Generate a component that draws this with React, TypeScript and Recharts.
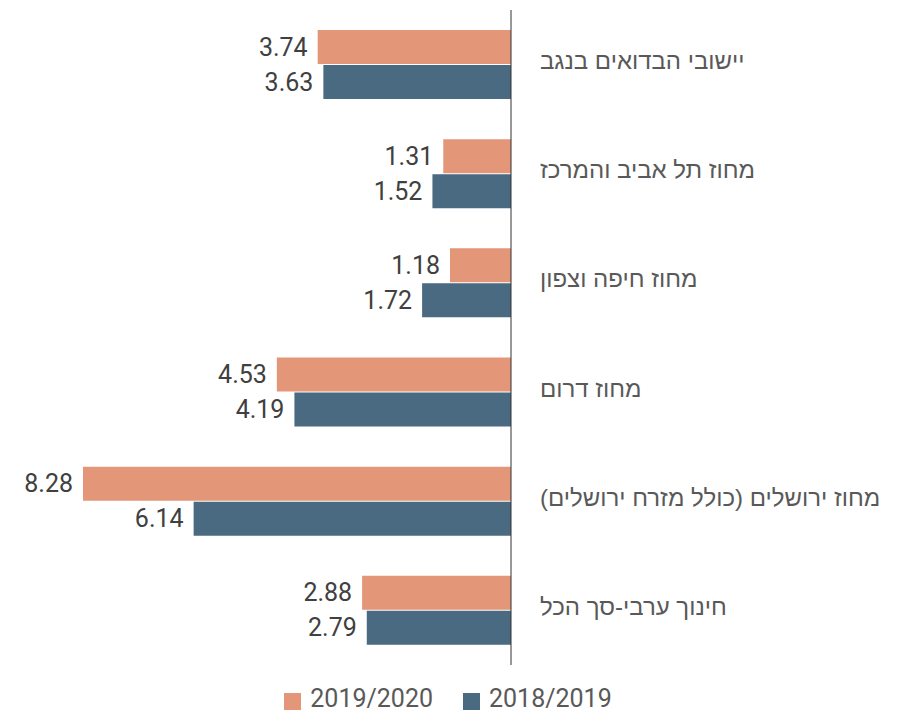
import React from 'react';
import { BarChart, Bar, XAxis, YAxis, Legend, LabelList } from 'recharts';

const categories = [
  'יישובי הבדואים בנגב',
  'מחוז תל אביב והמרכז',
  'מחוז חיפה וצפון',
  'מחוז דרום',
  'מחוז ירושלים (כולל מזרח ירושלים)',
  'חינוך ערבי-סך הכל',
];
const series2019_2020 = [3.74, 1.31, 1.18, 4.53, 8.28, 2.88];
const series2018_2019 = [3.63, 1.52, 1.72, 4.19, 6.14, 2.79];
const seriesNames = ['2019/2020', '2018/2019'];
const colors = ['#E39678', '#4A6A82'];

const data = categories.map((c, i) => ({
  name: c,
  a: series2019_2020[i],
  b: series2018_2019[i],
}));

const CategoryTick = (props: any) => {
  const { x, y, payload } = props;
  return (
    <text x={x + 21} y={y} dy={-4} textAnchor="start" dominantBaseline="central"
      fill="#595959" fontSize={24} fontFamily="'Liberation Sans', sans-serif">
      {payload.value}
    </text>
  );
};

const ValueLabel = (props: any) => {
  const { x, y, width, height, value } = props;
  const left = Math.min(x, x + width);
  return (
    <text x={left - 10} y={y + height / 2} textAnchor="end" dominantBaseline="central"
      fill="#404040" fontSize={25} fontFamily="Roboto, sans-serif">
      {Number(value).toFixed(2)}
    </text>
  );
};

const LegendContent = () => (
  <div style={{ display: 'flex', justifyContent: 'center', alignItems: 'center', fontFamily: 'Roboto, sans-serif', fontSize: 25, lineHeight: '24px', color: '#595959', paddingTop: 22, width: 896 }}>
    {seriesNames.map((n, i) => (
      <div key={n} style={{ display: 'flex', alignItems: 'center', marginLeft: i ? 30 : 0 }}>
        <div style={{ width: 17, height: 17, background: colors[i], marginRight: 9, marginTop: 5 }} />
        <span>{n}</span>
      </div>
    ))}
  </div>
);

export default function App() {
  return (
    <div style={{ position: 'absolute', left: 0, top: 0 }}>
      <BarChart width={919} height={713} data={data} layout="vertical"
        margin={{ top: 10, right: 0, bottom: 0, left: 83 }} barGap={1} barSize={34}>
        <XAxis type="number" domain={[0, 8.28]} reversed hide />
        <YAxis type="category" dataKey="name" orientation="right" width={408}
          axisLine={{ stroke: '#333', strokeWidth: 1 }} tickLine={false} tick={<CategoryTick />} interval={0} />
        <Legend verticalAlign="bottom" height={48} wrapperStyle={{ left: 0, width: 896 }} content={<LegendContent />} />
        <Bar dataKey="a" name={seriesNames[0]} fill={colors[0]} isAnimationActive={false}>
          <LabelList dataKey="a" content={<ValueLabel />} />
        </Bar>
        <Bar dataKey="b" name={seriesNames[1]} fill={colors[1]} isAnimationActive={false}>
          <LabelList dataKey="b" content={<ValueLabel />} />
        </Bar>
      </BarChart>
    </div>
  );
}
